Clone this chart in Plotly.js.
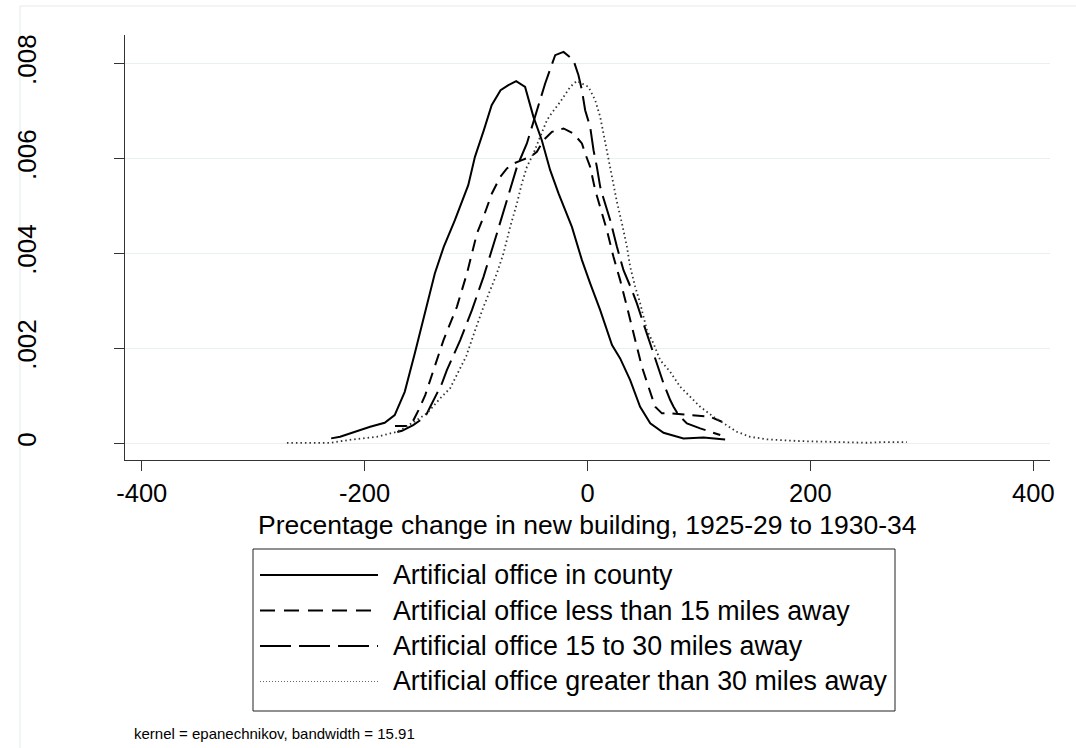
<!DOCTYPE html>
<html>
<head>
<meta charset="utf-8">
<script src="https://cdn.plot.ly/plotly-3.0.1.min.js"></script>
<style>html,body{margin:0;padding:0;background:#fff;}#chart{width:1076px;height:748px;}</style>
</head>
<body>
<div id="chart"></div>
<script>
// ---- data ----
const seriesNames = [
  "Artificial office in county",
  "Artificial office less than 15 miles away",
  "Artificial office 15 to 30 miles away",
  "Artificial office greater than 30 miles away"
];
const xTickVals = [-400, -200, 0, 200, 400];
const yTickVals = [0, 0.002, 0.004, 0.006, 0.008];
const yTickText = ["0", ".002", ".004", ".006", ".008"];
const xTitle = "Precentage change in new building, 1925-29 to 1930-34";
const noteText = "kernel = epanechnikov, bandwidth = 15.91";

const countyX = [-230,-222,-195,-182,-173,-164,-155,-146,-137,-129,-119,-107,-101,-93,-86,-78,-71,-64,-56,-48.5,-41,-33.5,-26,-14,-5,2.4,11.4,22,29.3,38.3,47.2,56.3,68.2,86.1,104.1,123.5];
const countyY = [0.000105,0.000139,0.00035,0.000434,0.000596,0.001086,0.001895,0.002737,0.003579,0.004139,0.004701,0.005438,0.006034,0.006596,0.007122,0.007438,0.007543,0.007627,0.007507,0.006876,0.006385,0.005754,0.005263,0.00456,0.003859,0.003368,0.002806,0.00207,0.00179,0.001333,0.00077,0.000421,0.000223,0.000105,0.000126,0.000084];

const lt15X = [-172.7,-161.9,-156.1,-151.6,-145.6,-138.2,-129.2,-117.2,-108.2,-99.2,-93.3,-85.8,-78.3,-72.3,-66.4,-58.9,-51.4,-45.4,-39.5,-31.9,-21.5,-12.6,-5,-2.1,2.4,6.9,11.4,17.4,23.3,29.3,35.4,39.8,44.3,48.8,54.7,60.7,66.8,74.2,92.2,110.1,120.6];
const lt15Y = [0.000364,0.000364,0.000491,0.000701,0.001017,0.001543,0.002175,0.002876,0.003579,0.004421,0.00477,0.005263,0.005613,0.005789,0.005895,0.005964,0.006034,0.006139,0.006385,0.00656,0.006632,0.006526,0.006316,0.006105,0.005823,0.005333,0.004981,0.004491,0.003928,0.003438,0.002876,0.002455,0.002034,0.001613,0.001192,0.000771,0.000632,0.000632,0.000596,0.00056,0.000455];

const mid30X = [-170.7,-166.5,-156.4,-145.6,-141.1,-130.6,-126.2,-114.2,-103.7,-93.3,-81.3,-70.9,-63.3,-54.4,-49.9,-42.4,-38,-29,-21.5,-12.6,-8.1,-5,-2.1,2.4,5.4,8.4,11.4,14.4,20.4,26.4,32.3,39.8,44.3,50.2,56.3,62.3,68.2,74.2,77.2,81.7,89.2,101.1,116.1,119.1];
const mid30Y = [0.000238,0.000265,0.000385,0.00056,0.000771,0.001263,0.001543,0.002175,0.002806,0.003507,0.004421,0.005263,0.005823,0.006316,0.006665,0.007227,0.007579,0.008175,0.008244,0.008069,0.007754,0.007438,0.007017,0.006665,0.006175,0.005823,0.005402,0.005158,0.004701,0.004139,0.003648,0.003227,0.002947,0.002526,0.002105,0.001684,0.001263,0.000912,0.000771,0.000596,0.000421,0.000316,0.000211,0.000175];

const gt30X = [-269.7,-230.9,-210,-189,-171,-165.1,-153.1,-144.1,-132.2,-123.2,-116,-108.8,-100.8,-93.3,-81.3,-75.4,-69.4,-63.3,-58.9,-54.4,-48.5,-42.4,-36.4,-33.5,-24.5,-15.5,-9.5,0.9,6.9,11.4,14.4,17.4,20.4,23.3,26.4,30.9,35.4,38.3,42.8,47.3,53.3,59.2,65.2,74.2,83.2,92.2,101.1,113.1,122,134,146,161,190.8,220.7,250.7,265.6,286.6];
const gt30Y = [0.0000126,0.0000126,0.000084,0.000139,0.000244,0.000316,0.000491,0.000632,0.000947,0.001164,0.001501,0.001838,0.002385,0.002876,0.003579,0.004,0.00456,0.005053,0.005474,0.005823,0.006105,0.006455,0.006806,0.006912,0.007192,0.007507,0.007634,0.007507,0.007227,0.006876,0.006526,0.006175,0.005754,0.005474,0.005086,0.004632,0.004139,0.003718,0.003297,0.002947,0.002385,0.002105,0.001754,0.001507,0.001192,0.000981,0.000771,0.00056,0.000421,0.000244,0.000139,0.000084,0.000048,0.000034,0.000013,0.000027,0.000027];

// ---- styles ----
const FONT = "Liberation Sans, Arial, Helvetica, sans-serif";
const styles = [
  {color: "#000", width: 2, dash: "solid"},
  {color: "#000", width: 2, dash: "12px,8px"},
  {color: "#000", width: 2, dash: "26px,8px"},
  {color: "#333", width: 1.8, dash: "1.5px,3px"}
];
const xs = [countyX, lt15X, mid30X, gt30X];
const ys = [countyY, lt15Y, mid30Y, gt30Y];

const traces = xs.map((x, i) => ({
  type: "scatter", mode: "lines", name: seriesNames[i],
  x: x, y: ys[i], showlegend: false, hoverinfo: "skip",
  line: {color: styles[i].color, width: styles[i].width, dash: styles[i].dash, shape: "linear"}
}));

// plot area in pixels
const L = 125, R = 1050, T = 35, B = 460;
const W = 1076, H = 748;
const px = v => (v - L) / (R - L);
const py = v => (B - v) / (B - T);

const shapes = [];
const annotations = [];
// faint outer frame
shapes.push({type: "rect", xref: "paper", yref: "paper", x0: px(20), x1: px(1090), y0: py(760), y1: py(6),
  line: {color: "#e3ebee", width: 1}, fillcolor: "rgba(0,0,0,0)", layer: "below"});
// legend box
shapes.push({type: "rect", xref: "paper", yref: "paper", x0: px(253), x1: px(895), y0: py(711), y1: py(549),
  line: {color: "#222", width: 1}, fillcolor: "rgba(0,0,0,0)"});
const rowY = [575, 610.5, 646, 681.5];
const legendStyles = [
  {color: "#000", width: 2, dash: "solid"},
  {color: "#000", width: 2, dash: "15px,9px"},
  {color: "#000", width: 2, dash: "31px,8px"},
  {color: "#666", width: 1, dash: "1px,2px"}
];
seriesNames.forEach((n, i) => {
  shapes.push({type: "line", xref: "paper", yref: "paper", x0: px(260), x1: px(378), y0: py(rowY[i]), y1: py(rowY[i]),
    line: legendStyles[i]});
  annotations.push({xref: "paper", yref: "paper", x: px(391), y: py(rowY[i]), xanchor: "left", yanchor: "middle",
    text: n, showarrow: false, font: {family: FONT, size: 26.8, color: "#000"}});
});
annotations.push({xref: "paper", yref: "paper", x: px(132), y: py(733), xanchor: "left", yanchor: "middle",
  text: noteText, showarrow: false, font: {family: FONT, size: 15, color: "#000"}});
// x-axis title placed as text below the tick labels
annotations.push({xref: "paper", yref: "paper", x: px(587), y: py(525), xanchor: "center", yanchor: "middle",
  text: xTitle, showarrow: false, borderpad: 0, font: {family: FONT, size: 26.5, color: "#000"}});

const layout = {
  width: W, height: H,
  paper_bgcolor: "#fff", plot_bgcolor: "#fff",
  margin: {l: L, r: W - R, t: T, b: H - B, pad: 0},
  showlegend: false,
  font: {family: FONT, color: "#000"},
  xaxis: {
    range: [-415, 415], tickvals: xTickVals, ticktext: xTickVals.map(String),
    ticks: "outside", ticklen: 10, tickwidth: 1, tickcolor: "#333",
    showline: true, linecolor: "#333", linewidth: 1, mirror: false,
    showgrid: false, zeroline: false,
    tickfont: {family: FONT, size: 25.5, color: "#000"},
    ticklabelstandoff: 0
  },
  yaxis: {
    range: [-0.00035, 0.0086], tickvals: yTickVals, ticktext: yTickText,
    tickangle: -90,
    ticks: "outside", ticklen: 10, tickwidth: 1, tickcolor: "#333",
    showline: true, linecolor: "#333", linewidth: 1,
    showgrid: true, gridcolor: "#e8f0f2", gridwidth: 1.5, zeroline: false,
    tickfont: {family: FONT, size: 26, color: "#000"},
    ticklabelstandoff: 68
  },
  shapes: shapes,
  annotations: annotations
};

Plotly.newPlot("chart", traces, layout, {displayModeBar: false, staticPlot: true});
</script>
</body>
</html>
